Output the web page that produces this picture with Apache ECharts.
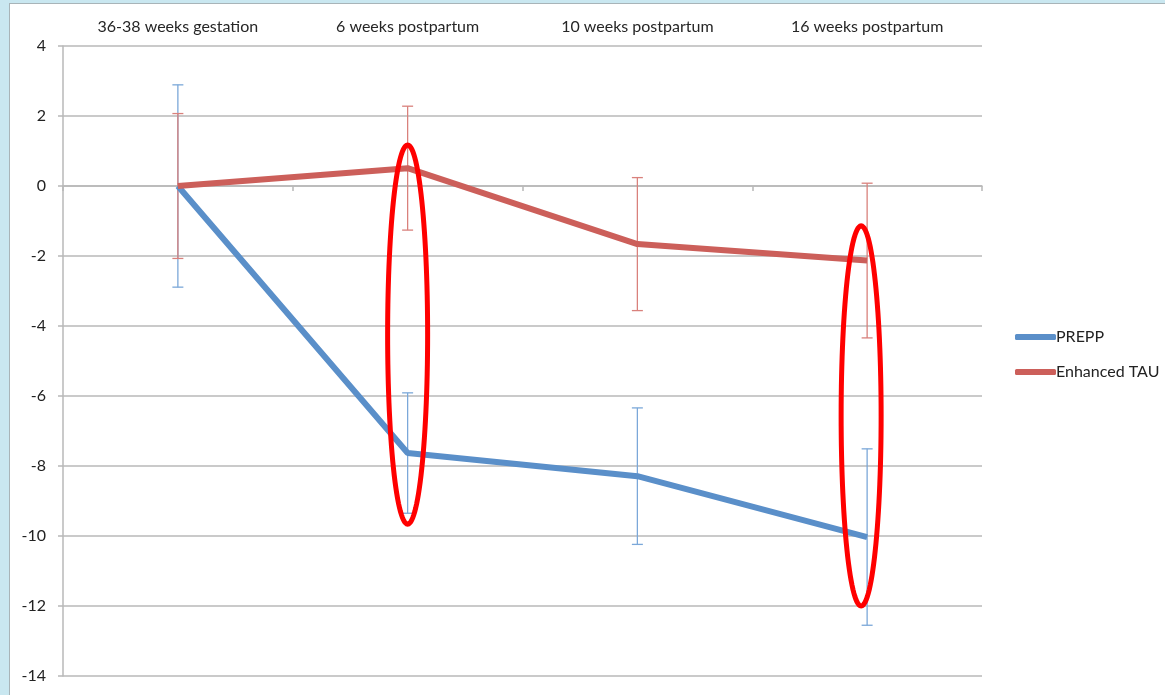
<!DOCTYPE html>
<html>
<head>
<meta charset="utf-8">
<title>PREPP vs Enhanced TAU</title>
<script src="https://cdn.jsdelivr.net/npm/echarts@6/dist/echarts.min.js"></script>
<style>
  html, body { margin: 0; padding: 0; }
  body { width: 1165px; height: 695px; background: #c9e7f0; position: relative; overflow: hidden; }
  .panel {
    position: absolute; left: 9px; top: 3px; right: 0; bottom: 0;
    background: #fff; border-left: 1px solid #a8b4b8; border-top: 1px solid #a8b4b8;
  }
  #chart { position: absolute; left: 0; top: 0; width: 1165px; height: 695px; }
</style>
</head>
<body>
<div class="panel"></div>
<div id="chart"></div>
<script>
// time points
const categories = ['36-38 weeks gestation', '6 weeks postpartum', '10 weeks postpartum', '16 weeks postpartum']
// change from baseline
const preppMean = [0, -7.63, -8.29, -10.03]
const preppErr = [2.89, 1.72, 1.95, 2.52]
const tauMean = [0, 0.51, -1.66, -2.13]
const tauErr = [2.07, 1.77, 1.9, 2.21]
// y axis ticks
const yMin = -14
const yMax = 4
const yStep = 2
// red hand-drawn ovals: category index, top value, bottom value
const ovalCat = [1, 3]
const ovalTop = [1.17, -1.14]
const ovalBottom = [-9.66, -12.0]

const blue = '#5a8fc9'
const red = '#cc5f5a'
const blueErr = '#7ba8d9'
const redErr = '#d9817c'
const gridGrey = '#b8b8b8'
const font = 'Lato, "Open Sans", sans-serif'

function errData(mean, err) {
  return mean.map((m, i) => [i, m - err[i], m + err[i]])
}

function errBar(color) {
  return function(params, api) {
    const x = api.value(0)
    const lo = api.coord([x, api.value(1)])
    const hi = api.coord([x, api.value(2)])
    const w = 5.5
    const style = { stroke: color, lineWidth: 1.3 }
    return {
      type: 'group',
      children: [
        { type: 'line', shape: { x1: hi[0], y1: hi[1], x2: lo[0], y2: lo[1] }, style },
        { type: 'line', shape: { x1: hi[0] - w, y1: hi[1], x2: hi[0] + w, y2: hi[1] }, style },
        { type: 'line', shape: { x1: lo[0] - w, y1: lo[1], x2: lo[0] + w, y2: lo[1] }, style }
      ]
    }
  }
}

const ovalShift = [0, -6]
function ovalItem(params, api) {
  const i = params.dataIndex
  const top = api.coord([api.value(0), api.value(1)])
  const bot = api.coord([api.value(0), api.value(2)])
  const cx = top[0] + ovalShift[i]
  const cy = (top[1] + bot[1]) / 2
  const ry = (bot[1] - top[1]) / 2
  const rx = 20
  const pts = []
  for (let k = 0; k < 120; k++) {
    const t = (k / 120) * Math.PI * 2
    pts.push([cx + rx * Math.cos(t), cy + ry * Math.sin(t)])
  }
  return {
    type: 'polygon',
    shape: { points: pts },
    style: { fill: 'none', stroke: '#ff0000', lineWidth: 5 }
  }
}

const chart = echarts.init(document.getElementById('chart'))
const option = {
  backgroundColor: 'transparent',
  animation: false,
  textStyle: { fontFamily: font },
  grid: { left: 63, top: 46, width: 919, height: 630 },
  legend: {
    data: ['PREPP', 'Enhanced TAU'],
    orient: 'vertical',
    left: 1010,
    top: 324,
    itemWidth: 41,
    itemHeight: 6,
    itemGap: 19,
    icon: 'roundRect',
    textStyle: { fontSize: 16, color: '#222', fontFamily: font, padding: [0, 0, 0, -5] }
  },
  xAxis: [
    {
      type: 'category',
      data: categories,
      boundaryGap: true,
      axisLine: { onZero: true, lineStyle: { color: gridGrey, width: 1.5 } },
      axisTick: { show: true, length: 5, lineStyle: { color: gridGrey, width: 1.5 } },
      axisLabel: { show: false },
      splitLine: { show: false }
    },
    {
      type: 'category',
      data: categories,
      position: 'top',
      boundaryGap: true,
      axisLine: { show: false },
      axisTick: { show: false },
      axisLabel: { show: true, fontSize: 16, color: '#262626', margin: 11, fontFamily: font },
      splitLine: { show: false }
    }
  ],
  yAxis: {
    type: 'value',
    min: yMin,
    max: yMax,
    interval: yStep,
    axisLine: { show: true, lineStyle: { color: gridGrey, width: 1.5 } },
    axisTick: { show: true, length: 5, lineStyle: { color: gridGrey, width: 1.5 } },
    axisLabel: { fontSize: 16, color: '#222', margin: 17, fontFamily: font },
    splitLine: { lineStyle: { color: gridGrey, width: 1.5 } }
  },
  series: [
    {
      type: 'custom',
      name: 'prepp-err',
      xAxisIndex: 0,
      renderItem: errBar(blueErr),
      encode: { x: 0, y: [1, 2] },
      data: errData(preppMean, preppErr),
      z: 3
    },
    {
      type: 'custom',
      name: 'tau-err',
      xAxisIndex: 0,
      renderItem: errBar(redErr),
      encode: { x: 0, y: [1, 2] },
      data: errData(tauMean, tauErr),
      z: 3
    },
    {
      name: 'PREPP',
      type: 'line',
      xAxisIndex: 0,
      data: preppMean,
      symbol: 'none',
      itemStyle: { color: blue },
      lineStyle: { color: blue, width: 6 },
      z: 4
    },
    {
      name: 'Enhanced TAU',
      type: 'line',
      xAxisIndex: 0,
      data: tauMean,
      symbol: 'none',
      itemStyle: { color: red },
      lineStyle: { color: red, width: 6 },
      z: 5
    },
    {
      type: 'custom',
      name: 'ovals',
      xAxisIndex: 0,
      renderItem: ovalItem,
      encode: { x: 0, y: [1, 2] },
      data: ovalCat.map((c, i) => [c, ovalTop[i], ovalBottom[i]]),
      z: 10
    }
  ]
}
chart.setOption(option)
</script>
</body>
</html>
